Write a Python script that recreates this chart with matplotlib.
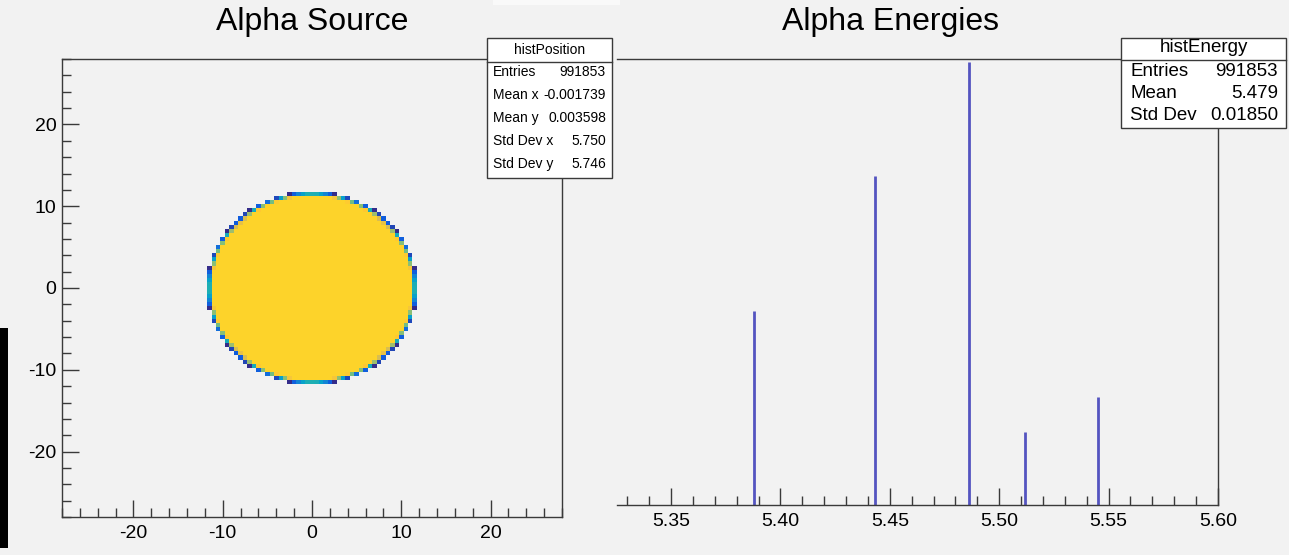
#!/usr/bin/python
# -*- encoding: UTF-8 -*-
'''Alpha source position map and alpha energy spectrum

    List of functions:
        main
        stats_box
'''

# third-party modules
import numpy as np
import matplotlib
matplotlib.use('Agg')
import matplotlib.pyplot as plt
from matplotlib.colors import LinearSegmentedColormap
from matplotlib.patches import Rectangle
from matplotlib.lines import Line2D
from matplotlib.ticker import MultipleLocator, NullLocator

# histPosition: uniform disk source, binned
src_radius = 11.5
pos_entries = 991853
pos_bin = 0.5
pos_lo = -28.25
pos_nbins = 113
pos_stats = [
    ('Entries', '991853'), ('Mean x', '-0.001739'), ('Mean y', '0.003598'),
    ('Std Dev x', '5.750'), ('Std Dev y', '5.746'),
]

peak_energy = [5.388, 5.443, 5.486, 5.512, 5.545]
peak_counts = [15200, 133000, 839000, 2160, 3800]
energy_stats = [('Entries', '991853'), ('Mean', '5.479'), ('Std Dev', '0.01850')]

# ROOT kBird palette
bird_stops = [0.0, 0.125, 0.25, 0.375, 0.5, 0.625, 0.75, 0.875, 1.0]
bird_r = [0.2082, 0.0592, 0.0780, 0.0232, 0.1802, 0.5301, 0.8186, 0.9956, 0.9764]
bird_g = [0.1664, 0.3599, 0.5041, 0.6419, 0.7178, 0.7492, 0.7328, 0.7862, 0.9832]
bird_b = [0.5293, 0.8684, 0.8385, 0.7914, 0.6425, 0.4662, 0.3499, 0.1968, 0.0539]

W, H = 1289, 555
BG = '#f2f2f2'
FRAME = '#3a3a3a'

def fx(x): return x / float(W)
def fy(y): return 1.0 - y / float(H)

#==============================================================================
def stats_box(fig, x0, y0, x1, y1, title, rows, title_y, sep_y, row_ys,
              fs, lpad, rpad):
    fig.add_artist(Rectangle(
        (fx(x0), fy(y1)), (x1 - x0) / float(W), (y1 - y0) / float(H),
        transform=fig.transFigure, fc='white', ec=FRAME, lw=1.0, zorder=5
    ))
    fig.add_artist(Line2D(
        [fx(x0), fx(x1)], [fy(sep_y)] * 2, transform=fig.transFigure,
        color=FRAME, lw=1.0, zorder=6
    ))
    fig.text(fx((x0 + x1) / 2.0), fy(title_y), title, ha='center',
             va='center', fontsize=fs, zorder=7)
    for (lab, val), ry in zip(rows, row_ys):
        fig.text(fx(x0 + lpad), fy(ry), lab, ha='left', va='center',
                 fontsize=fs, zorder=7)
        fig.text(fx(x1 - rpad), fy(ry), val, ha='right', va='center',
                 fontsize=fs, zorder=7)
# END stats_box

#==============================================================================
def main():
    plt.rcParams['font.family'] = ['Liberation Sans', 'DejaVu Sans']
    plt.rcParams['axes.unicode_minus'] = False

    fig = plt.figure(figsize=(W / 100.0, H / 100.0), dpi=100, facecolor=BG)

    # screenshot leftovers
    fig.add_artist(Rectangle((fx(0), fy(548)), fx(8), (548 - 328) / float(H),
                             transform=fig.transFigure, fc='black', lw=0,
                             zorder=0))
    fig.add_artist(Rectangle((fx(493), fy(5)), (620 - 493) / float(W),
                             5 / float(H), transform=fig.transFigure,
                             fc='#f9f9f9', lw=0, zorder=0))

    # ---------------- left: Alpha Source ----------------
    ax1 = fig.add_axes([fx(62), fy(517), 500.0 / W, 458.0 / H])
    ax1.set_facecolor(BG)

    edges = pos_lo + pos_bin * np.arange(pos_nbins + 1)
    nsub = 12
    fine = pos_lo + pos_bin * (np.arange(pos_nbins * nsub) + 0.5) / nsub
    fxg, fyg = np.meshgrid(fine, fine)
    inside = (fxg ** 2 + fyg ** 2 <= src_radius ** 2).astype(float)
    cover = inside.reshape(pos_nbins, nsub, pos_nbins, nsub).mean(axis=(1, 3))
    per_bin = pos_entries / (np.pi * src_radius ** 2) * pos_bin ** 2
    counts = np.ma.masked_less_equal(cover * per_bin, 0.0)

    bird = LinearSegmentedColormap.from_list(
        'bird', [(s, (r, g, b)) for s, r, g, b in
                 zip(bird_stops, bird_r, bird_g, bird_b)]
    )
    ax1.pcolormesh(edges, edges, counts, cmap=bird, vmin=0.0,
                   vmax=per_bin / 0.9, shading='flat')
    ax1.set_xlim(-28, 28)
    ax1.set_ylim(-28, 28)
    ax1.xaxis.set_major_locator(MultipleLocator(10))
    ax1.xaxis.set_minor_locator(MultipleLocator(2))
    ax1.yaxis.set_major_locator(MultipleLocator(10))
    ax1.yaxis.set_minor_locator(MultipleLocator(2))
    ax1.tick_params(which='both', direction='in', color=FRAME, width=1.0,
                    labelsize=14, top=False, right=False)
    ax1.tick_params(which='major', length=12)
    ax1.tick_params(which='minor', length=6.5)
    ax1.tick_params(axis='x', pad=6)
    ax1.tick_params(axis='y', pad=4)
    for sp in ax1.spines.values():
        sp.set_color(FRAME)
        sp.set_linewidth(1.0)

    fig.text(fx(312), fy(22), 'Alpha Source', ha='center', va='center',
             fontsize=23)

    # ---------------- right: Alpha Energies ----------------
    ax2 = fig.add_axes([fx(617), fy(505), 601.0 / W, 446.0 / H])
    ax2.set_facecolor(BG)
    ax2.set_yscale('log')
    ax2.vlines(peak_energy, 1, peak_counts, color='#5454c0', lw=2.0)
    ax2.set_xlim(5.3253, 5.60)
    ax2.set_ylim(667, 877000)
    ax2.xaxis.set_major_locator(MultipleLocator(0.05))
    ax2.xaxis.set_minor_locator(MultipleLocator(0.01))
    ax2.xaxis.set_major_formatter(lambda v, p: '{:.2f}'.format(v))
    ax2.yaxis.set_major_locator(NullLocator())
    ax2.yaxis.set_minor_locator(NullLocator())
    ax2.tick_params(which='both', direction='in', color=FRAME, width=1.0,
                    labelsize=14, top=False, right=False, left=False)
    ax2.tick_params(which='major', length=12)
    ax2.tick_params(which='minor', length=6.5)
    ax2.tick_params(axis='x', pad=6)
    ax2.spines['left'].set_visible(False)
    for sp in ('top', 'right', 'bottom'):
        ax2.spines[sp].set_color(FRAME)
        ax2.spines[sp].set_linewidth(1.0)

    fig.text(fx(891), fy(22), 'Alpha Energies', ha='center', va='center',
             fontsize=23)

    # ---------------- stats boxes ----------------
    stats_box(fig, 487, 38, 612, 178, 'histPosition', pos_stats,
              50, 62, [72, 95, 118, 141, 164], 10, 6, 6)
    stats_box(fig, 1121, 38, 1286, 128, 'histEnergy', energy_stats,
              48, 60, [71, 93, 115], 13.5, 9, 8)

    fig.savefig('out.png', dpi=100, facecolor=BG)
# END main

#==============================================================================
if __name__ == '__main__': main()
